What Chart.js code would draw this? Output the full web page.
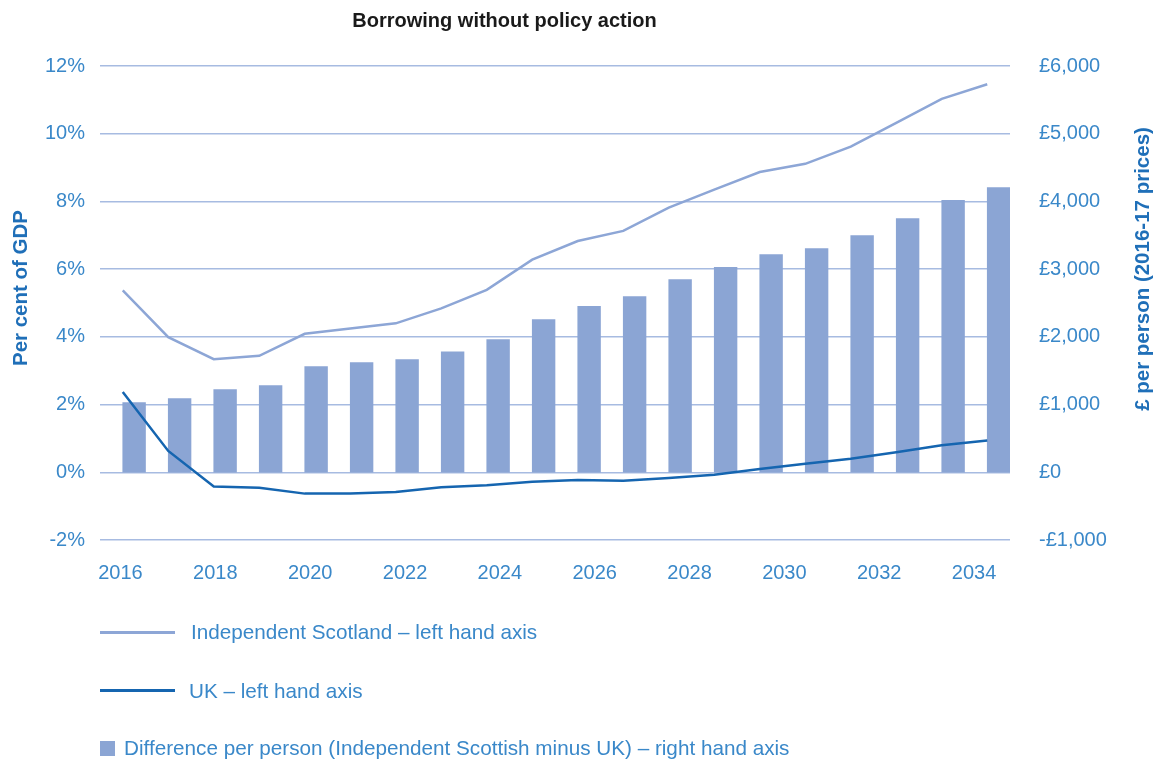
<!DOCTYPE html>
<html>
<head>
<meta charset="utf-8">
<script src="https://cdn.jsdelivr.net/npm/chart.js@4/dist/chart.umd.min.js"></script>
<style>
  body { margin: 0; background: #fff; font-family: "Liberation Sans", Arial, sans-serif; }
  #wrap { position: relative; width: 1154px; height: 760px; overflow: hidden; }
  #wrap canvas { position: absolute; left: 0; top: 0; }
  .title { position: absolute; left: 0; top: 9px; width: 1009px; text-align: center;
           font-size: 20px; font-weight: bold; color: #1a1a1a; }
  .axis-title { position: absolute; height: 24px; line-height: 24px; text-align: center;
                font-size: 20.5px; font-weight: bold; color: #1f6fb8; transform: rotate(-90deg); }
  .legend-text { position: absolute; height: 24px; line-height: 24px; font-size: 20.7px;
                 color: #3a88c9; white-space: nowrap; }
  .swatch { position: absolute; }
</style>
</head>
<body>
<div id="wrap">
  <canvas id="borrowingChart" width="1154" height="760"></canvas>
  <div class="title">Borrowing without policy action</div>
  <div class="axis-title" style="left:-130px; top:276px; width:300px;">Per cent of GDP</div>
  <div class="axis-title" style="left:982px; top:257px; width:320px;">£ per person (2016-17 prices)</div>

  <div class="swatch" style="left:100px; top:631px; width:75px; height:3px; background:#8da6d6;"></div>
  <div class="legend-text" style="left:191px; top:620px;">Independent Scotland – left hand axis</div>
  <div class="swatch" style="left:100px; top:689px; width:75px; height:3px; background:#1565b0;"></div>
  <div class="legend-text" style="left:189px; top:679px;">UK – left hand axis</div>
  <div class="swatch" style="left:100px; top:741px; width:15px; height:15px; background:#8ba5d4;"></div>
  <div class="legend-text" style="left:124px; top:736px;">Difference per person (Independent Scottish minus UK) – right hand axis</div>
</div>

<script>
const years = [2016, 2017, 2018, 2019, 2020, 2021, 2022, 2023, 2024, 2025,
               2026, 2027, 2028, 2029, 2030, 2031, 2032, 2033, 2034, 2035];
const yearTicks = [2016, 2018, 2020, 2022, 2024, 2026, 2028, 2030, 2032, 2034];

// per cent of GDP (left axis)
const scotlandPct = [5.37, 3.99, 3.34, 3.44, 4.09, 4.25, 4.40, 4.84, 5.39, 6.28,
                     6.83, 7.13, 7.82, 8.35, 8.87, 9.11, 9.62, 10.32, 11.03, 11.46];
const ukPct = [2.37, 0.63, -0.42, -0.46, -0.63, -0.63, -0.58, -0.44, -0.38, -0.28,
               -0.23, -0.25, -0.17, -0.07, 0.10, 0.25, 0.40, 0.59, 0.80, 0.94];

// £ per person, 2016-17 prices (right axis)
const diffPerPerson = [1030, 1090, 1220, 1280, 1560, 1620, 1665, 1780, 1960, 2255,
                       2450, 2595, 2845, 3025, 3215, 3305, 3495, 3745, 4015, 4205];

const lightBlue = "#8ba5d4";
const darkBlue = "#1565b0";
const gridColor = "#a7bbe1";
const tickColor = "#3a88c9";
const tickFont = { family: "Liberation Sans", size: 20 };

new Chart(document.getElementById("borrowingChart"), {
  type: "bar",
  data: {
    labels: years,
    datasets: [
      {
        type: "line",
        label: "Independent Scotland – left hand axis",
        data: scotlandPct,
        borderColor: "#8da6d6",
        borderWidth: 2.5,
        pointRadius: 0,
        yAxisID: "y",
        order: 0,
      },
      {
        type: "line",
        label: "UK – left hand axis",
        data: ukPct,
        borderColor: darkBlue,
        borderWidth: 2.5,
        pointRadius: 0,
        yAxisID: "y",
        order: 0,
      },
      {
        // empty slot so the bars sit just right of each year
        label: "",
        data: years.map(() => null),
        yAxisID: "y1",
        order: 1,
      },
      {
        label: "Difference per person (Independent Scottish minus UK) – right hand axis",
        data: diffPerPerson,
        backgroundColor: lightBlue,
        barPercentage: 1,
        categoryPercentage: 1,
        yAxisID: "y1",
        order: 1,
      },
    ],
  },
  options: {
    responsive: false,
    animation: false,
    devicePixelRatio: 1,
    layout: { padding: { top: 66, bottom: 176, left: 0, right: 0 } },
    plugins: {
      legend: { display: false },
      tooltip: { enabled: false },
    },
    scales: {
      x: {
        type: "category",
        display: false,
      },
      // year labels, spread as in the source graphic
      xt: {
        type: "linear",
        position: "bottom",
        offset: false,
        min: 2015.568,
        max: 2034.758,
        grid: { display: false, drawTicks: false, offset: false },
        border: { display: false },
        ticks: {
          color: tickColor,
          font: tickFont,
          padding: 21,
          maxRotation: 0,
          callback: (v) => String(v),
        },
        afterBuildTicks: (scale) => {
          scale.ticks = yearTicks.map((v) => ({ value: v }));
        },
        afterFit: (scale) => { scale.height = 44; },
      },
      y: {
        position: "left",
        min: -2,
        max: 12,
        grid: { color: gridColor, lineWidth: 1.4, drawTicks: false },
        border: { display: false },
        ticks: {
          stepSize: 2,
          color: tickColor,
          font: tickFont,
          padding: 15,
          callback: (v) => v + "%",
        },
        afterFit: (scale) => { scale.width = 100; },
      },
      y1: {
        position: "right",
        min: -1000,
        max: 6000,
        grid: { display: false, drawTicks: false },
        border: { display: false },
        ticks: {
          stepSize: 1000,
          color: tickColor,
          font: tickFont,
          padding: 29,
          callback: (v) => (v < 0 ? "-£" : "£") + Math.abs(v).toLocaleString("en-GB"),
        },
        afterFit: (scale) => { scale.width = 144; },
      },
    },
  },
});
</script>
</body>
</html>
